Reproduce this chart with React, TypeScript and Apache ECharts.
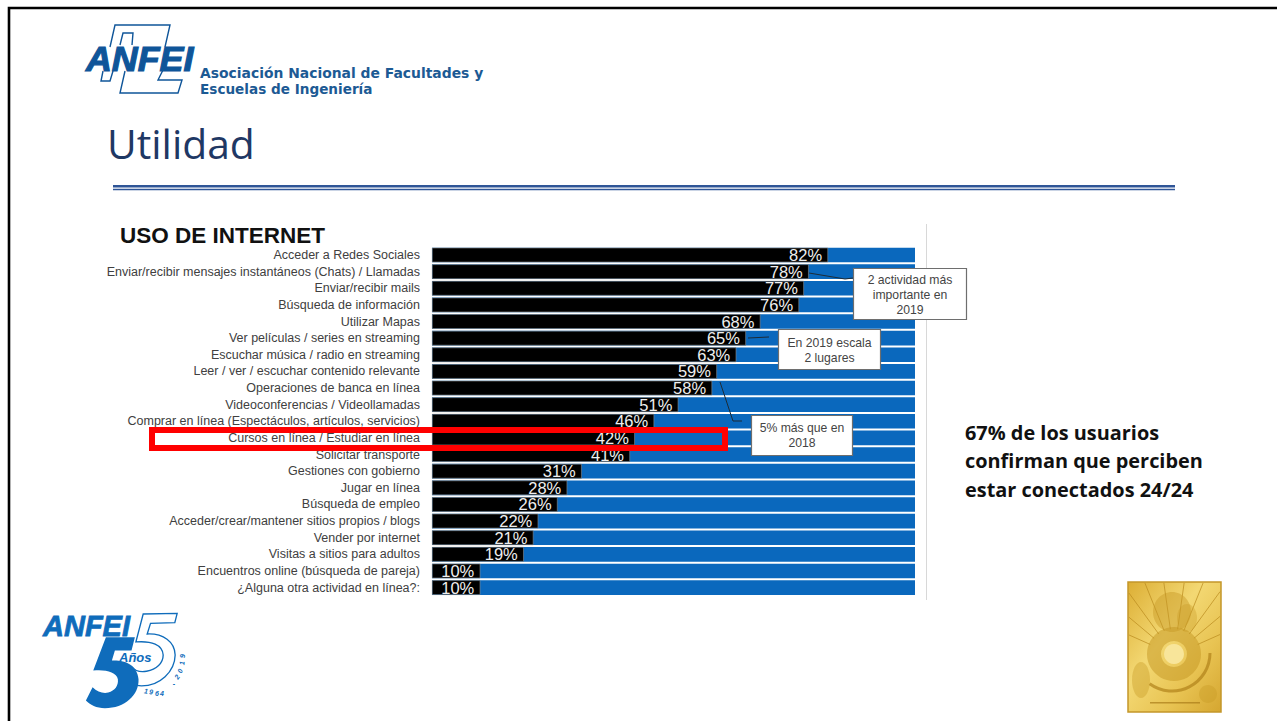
import React, { useEffect, useRef } from "react";
import * as echarts from "echarts";

const categories = [
  "Acceder a Redes Sociales",
  "Enviar/recibir mensajes instantáneos (Chats) / Llamadas",
  "Enviar/recibir mails",
  "Búsqueda de información",
  "Utilizar Mapas",
  "Ver películas / series en streaming",
  "Escuchar música / radio en streaming",
  "Leer / ver / escuchar contenido relevante",
  "Operaciones de banca en línea",
  "Videoconferencias / Videollamadas",
  "Comprar en línea (Espectáculos, artículos, servicios)",
  "Cursos en línea / Estudiar en línea",
  "Solicitar transporte",
  "Gestiones con gobierno",
  "Jugar en línea",
  "Búsqueda de empleo",
  "Acceder/crear/mantener sitios propios / blogs",
  "Vender por internet",
  "Visitas a sitios para adultos",
  "Encuentros online (búsqueda de pareja)",
  "¿Alguna otra actividad en línea?:",
];
const usage = [82, 78, 77, 76, 68, 65, 63, 59, 58, 51, 46, 42, 41, 31, 28, 26, 22, 21, 19, 10, 10];

const BLUE = "#0a68bd";
const LOGO = "#0f5599";
const LOGO2 = "#0f6cbb";
const SANS = "'Liberation Sans', Arial, sans-serif";

echarts.graphic.registerShape(
  "bigFive",
  echarts.graphic.extendPath(
    "M318 112 L405 112 L395 152 L345 152 L336 182 C375 180 412 195 416 238 C418 285 375 325 315 325 C290 325 270 315 258 302 L278 262 C292 276 310 282 325 278 C345 272 356 258 354 238 C350 216 315 208 280 212 Z",
    {}
  )
);
echarts.graphic.registerShape(
  "outlineFive",
  echarts.graphic.extendPath(
    "M430 42 L532 40 L525 68 L452 70 L442 102 C490 100 525 125 526 165 C525 215 480 258 425 258 C405 258 385 248 372 235 L395 200 C405 212 420 218 440 214 C470 208 490 190 490 165 C488 135 455 122 408 126 Z",
    {}
  )
);

const txt = (x: number, y: number, text: string, font: string, fill: string, align = "left", extra: any = {}) => ({
  type: "text",
  x,
  y,
  z: 20,
  ...extra,
  style: { text, font, fill, align, verticalAlign: "middle", ...(extra.style || {}) },
});
const line = (pts: number[][], stroke: string, lineWidth = 1, z = 15) => ({
  type: "polyline",
  z,
  shape: { points: pts },
  style: { stroke, lineWidth, fill: "none" },
});
const box = (x: number, y: number, w: number, h: number) => ({
  type: "rect",
  z: 16,
  shape: { x, y, width: w, height: h },
  style: { fill: "#ffffff", stroke: "#6e6e6e", lineWidth: 1.2 },
});

const yearChars = "1964 - 2019".split("");
const yearPos = [
  [146, 691, 8], [151, 692, 4], [157, 693, 0], [162, 693, 0], [0, 0, 0], [174, 683, 0], [0, 0, 0],
  [177, 677, -55], [180, 671, -65], [182, 663, -85], [182, 656, -90],
];
const rays = [-66, -50, -36, -22, -8, 8, 22, 36, 50, 66];

function sealElements() {
  const cx = 1174;
  const cy = 655;
  const left = 1129, right = 1220, top = 583;
  const els: any[] = [
    {
      type: "rect",
      z: 10,
      shape: { x: 1128, y: 582, width: 93, height: 130 },
      style: {
        fill: new echarts.graphic.LinearGradient(0, 0, 1, 1, [
          { offset: 0, color: "#dcae34" },
          { offset: 0.4, color: "#f3d873" },
          { offset: 0.7, color: "#e8c352" },
          { offset: 1, color: "#d5a630" },
        ]),
        stroke: "#c4962a",
        lineWidth: 1.5,
      },
    },
  ];
  rays.forEach((d) => {
    const a = (d * Math.PI) / 180;
    const dx = Math.sin(a);
    const dy = -Math.cos(a);
    const tTop = (top - cy) / dy;
    const tSide = dx > 0 ? (right - cx) / dx : (left - cx) / dx;
    const t = Math.min(tTop, tSide);
    els.push(line([[cx + 26 * dx, cy + 26 * dy], [cx + t * dx, cy + t * dy]], "#b98a1c", 0.7, 11));
  });
  els.push(
    { type: "ellipse", z: 11, shape: { cx: 1172, cy: 612, rx: 19, ry: 20 }, style: { fill: "#c89a26", opacity: 0.45 } },
    { type: "ellipse", z: 11, shape: { cx: 1187, cy: 618, rx: 10, ry: 14 }, style: { fill: "#c89a26", opacity: 0.35 } },
    { type: "ring", z: 11, shape: { cx, cy: cy - 1, r: 27, r0: 13 }, style: { fill: "#c49522", opacity: 0.5 } },
    { type: "circle", z: 12, shape: { cx, cy: cy - 1, r: 10 }, style: { fill: "#f8e59a" } },
    { type: "arc", z: 12, shape: { cx: cx - 2, cy: cy - 2, r: 38, startAngle: 0.0, endAngle: 2.2 }, style: { stroke: "#b1811a", lineWidth: 3, fill: "none", opacity: 0.7 } },
    { type: "ellipse", z: 11, shape: { cx: 1141, cy: 680, rx: 9, ry: 18 }, style: { fill: "#c89a26", opacity: 0.4 } },
    { type: "ellipse", z: 11, shape: { cx: 1208, cy: 694, rx: 9, ry: 9 }, style: { fill: "#c89a26", opacity: 0.4 } },
    { type: "rect", z: 12, shape: { x: 1150, y: 702, width: 50, height: 1.5 }, style: { fill: "#a97c18", opacity: 0.7 } }
  );
  return els;
}

function logoElements() {
  const c = LOGO;
  const els: any[] = [
    line([[110, 47], [115, 25], [170, 25], [165, 47]], c, 1.4),
    line([[120, 45], [123, 33], [133, 33], [132, 45]], c, 1.4),
    line([[103, 71], [101, 81], [110, 81], [113, 71]], c, 1.4),
    line([[125, 71], [120, 93], [178, 93], [182, 80], [158, 80], [163, 70]], c, 1.4),
    txt(86, 59, "ANFEI", `italic 900 35.8px ${SANS}`, c, "left", { style: { stroke: c, lineWidth: 1.2 } }),
    txt(200, 73, "Asociación Nacional de Facultades y", "bold 13.9px 'DejaVu Sans', sans-serif", "#1c5a94"),
    txt(200, 88.5, "Escuelas de Ingeniería", "bold 13.6px 'DejaVu Sans', sans-serif", "#1c5a94"),
    txt(43, 626, "ANFEI", `italic 900 29px ${SANS}`, LOGO2, "left", { style: { stroke: LOGO2, lineWidth: 0.8 } }),
    txt(119, 657, "Años", `italic bold 13px ${SANS}`, LOGO2),
    { type: "bigFive", z: 18, x: 0, y: 600, scaleX: 1 / 3, scaleY: 1 / 3, style: { fill: LOGO2 } },
    { type: "outlineFive", z: 17, x: 0, y: 600, scaleX: 1 / 3, scaleY: 1 / 3, style: { fill: "none", stroke: LOGO2, lineWidth: 4 } },
  ];
  yearChars.forEach((ch, i) => {
    if (ch === " ") return;
    const p = yearPos[i];
    els.push({
      type: "text",
      z: 20,
      x: p[0],
      y: p[1],
      rotation: (-p[2] * Math.PI) / 180,
      style: { text: ch, font: `italic bold 7px ${SANS}`, fill: LOGO2, align: "center", verticalAlign: "middle" },
    });
  });
  return els;
}

export default function App() {
  const ref = useRef<HTMLDivElement>(null);
  useEffect(() => {
    const chart = echarts.init(ref.current!, undefined, { renderer: "svg", width: 1277, height: 721 });
    chart.setOption({
      animation: false,
      backgroundColor: "#ffffff",
      grid: { left: 432, top: 246.7, width: 483, height: 349.2, containLabel: false },
      xAxis: { type: "value", min: 0, max: 100, show: false },
      yAxis: {
        type: "category",
        inverse: true,
        data: categories,
        axisLine: { show: false },
        axisTick: { show: false },
        axisLabel: { color: "#404040", fontFamily: SANS, fontSize: 12.5, margin: 12, interval: 0 },
      },
      series: [
        {
          type: "bar",
          data: usage,
          barWidth: "88%",
          showBackground: true,
          backgroundStyle: { color: BLUE },
          itemStyle: { color: "#000000", borderColor: "#8a8a8a", borderWidth: 0.6 },
          label: {
            show: true,
            position: "insideRight",
            distance: 6,
            formatter: "{c}%",
            color: "#efefef",
            fontFamily: SANS,
            fontSize: 16.5,
          },
        },
      ],
      graphic: [
        line([[9, 721], [9, 8], [1277, 8]], "#000000", 2.6),
        txt(107, 143, "Utilidad", "400 40.8px 'Open Sans', sans-serif", "#1f3864"),
        { type: "rect", z: 5, shape: { x: 113, y: 185, width: 1062, height: 2.4 }, style: { fill: "#2f5597" } },
        { type: "rect", z: 5, shape: { x: 113, y: 188.8, width: 1062, height: 1.4 }, style: { fill: "#2f5597" } },
        txt(120, 235, "USO DE INTERNET", `bold 22.5px ${SANS}`, "#111111"),
        line([[926.5, 224], [926.5, 600]], "#d8d8d8", 1),
        line([[809, 273], [845, 279], [853, 278]], "#1d2b36", 1),
        line([[748, 338], [769, 337]], "#1d2b36", 1),
        line([[720, 382], [733, 421], [742, 421]], "#1d2b36", 1),
        box(853.5, 268.5, 113, 51),
        txt(910, 280, "2 actividad más", `12.2px ${SANS}`, "#444444", "center"),
        txt(910, 295, "importante en", `12.2px ${SANS}`, "#444444", "center"),
        txt(910, 310, "2019", `12.2px ${SANS}`, "#444444", "center"),
        box(778.5, 329.5, 102, 40),
        txt(829.5, 343, "En 2019 escala", `12.2px ${SANS}`, "#444444", "center"),
        txt(829.5, 358, "2 lugares", `12.2px ${SANS}`, "#444444", "center"),
        box(751.5, 415.5, 101, 40),
        txt(802, 428, "5% más que en", `12.2px ${SANS}`, "#444444", "center"),
        txt(802, 443, "2018", `12.2px ${SANS}`, "#444444", "center"),
        {
          type: "rect",
          z: 17,
          shape: { x: 152, y: 430, width: 573, height: 18 },
          style: { fill: "none", stroke: "#ff0000", lineWidth: 6 },
        },
        txt(965, 432, "67% de los usuarios", "bold 19.9px 'Open Sans', sans-serif", "#111111"),
        txt(965, 460.5, "confirman que perciben", "bold 19.9px 'Open Sans', sans-serif", "#111111"),
        txt(965, 489, "estar conectados 24/24", "bold 19.9px 'Open Sans', sans-serif", "#111111"),
        ...logoElements(),
        ...sealElements(),
      ],
    });
    return () => chart.dispose();
  }, []);
  return <div ref={ref} style={{ position: "fixed", left: 0, top: 0, width: 1277, height: 721 }} />;
}
